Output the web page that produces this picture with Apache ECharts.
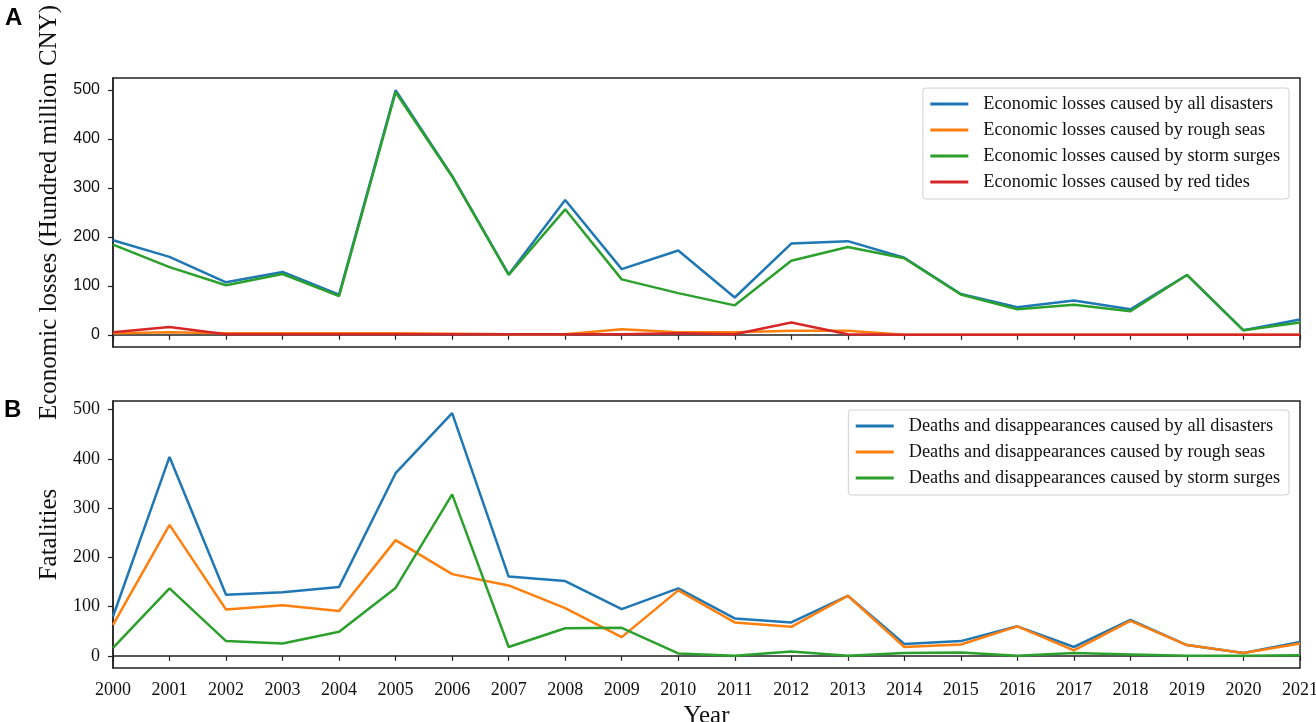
<!DOCTYPE html>
<html>
<head>
<meta charset="utf-8">
<script src="https://cdn.jsdelivr.net/npm/echarts@6/dist/echarts.min.js"></script>
<style>
html,body{margin:0;padding:0;background:#fff;}
#chart{width:1316px;height:722px;}
</style>
</head>
<body>
<div id="chart"></div>
<script>
const years = ['2000','2001','2002','2003','2004','2005','2006','2007','2008','2009','2010','2011','2012','2013','2014','2015','2016','2017','2018','2019','2020','2021'];
const yTicks = [0, 100, 200, 300, 400, 500];

// Panel A: economic losses (hundred million CNY)
const lossAll   = [193,159,107,128,82,499,324,123,275,134,172,76,186,191,157,83,56,70,52,122,9,31];
const lossRough = [3,5,3,3,3,3,2,1,1,11,5,5,8,8,0,0,0,0,0,0,0,0];
const lossStorm = [184,138,101,124,79,495,323,122,256,113,85,60,151,179,156,82,52,61,48,122,9,25];
const lossRed   = [5,16,1,1,1,1,1,1,1,1,3,1,25,1,0,0,0,0,0,0,0,0];

// Panel B: deaths and disappearances
const deathAll   = [80,404,124,129,140,371,493,161,152,95,137,76,68,122,24,30,60,18,73,22,6,28];
const deathRough = [63,266,94,103,91,235,166,143,97,38,133,68,59,122,18,23,60,11,71,22,6,25];
const deathStorm = [16,137,30,25,49,138,328,18,56,57,5,0,9,0,6,7,0,6,3,0,0,1];

const namesA = ['Economic losses caused by all disasters','Economic losses caused by rough seas','Economic losses caused by storm surges','Economic losses caused by red tides'];
const namesB = ['Deaths and disappearances caused by all disasters','Deaths and disappearances caused by rough seas','Deaths and disappearances caused by storm surges'];
const colors = ['#1f77b4','#ff7f0e','#2ca02c','#d62728'];

const serif = '"Liberation Serif","DejaVu Serif",serif';
const sans = '"Liberation Sans",Arial,sans-serif';

function line(name, data, idx, c) {
  return {
    type: 'line', name: name, data: data,
    xAxisIndex: idx, yAxisIndex: idx,
    symbol: 'none', smooth: false,
    lineStyle: {color: colors[c], width: 2.5},
    itemStyle: {color: colors[c]},
    emphasis: {disabled: true},
    animation: false
  };
}

function legend(names, top, right) {
  return {
    data: names, orient: 'vertical', top: top, right: right,
    itemWidth: 38, itemHeight: 14, itemGap: 8,
    padding: [7, 9, 8, 6],
    borderColor: '#d0d0d0', borderWidth: 1, borderRadius: 3,
    backgroundColor: 'rgba(255,255,255,0.85)',
    itemStyle: {opacity: 0},
    lineStyle: {width: 2.8, opacity: 1},
    textStyle: {fontFamily: serif, fontSize: 18.3, color: '#111', padding: [0,0,0,10]},
    selectedMode: false
  };
}

const chart = echarts.init(document.getElementById('chart'));
chart.setOption({
  backgroundColor: '#fff',
  animation: false,
  grid: [
    {left: 113, right: 16, top: 78, height: 269, outerBoundsMode: 'none', containLabel: false, show: true, borderColor: '#222', borderWidth: 1.5, backgroundColor: 'transparent'},
    {left: 113, right: 16, top: 401, height: 267, outerBoundsMode: 'none', containLabel: false, show: true, borderColor: '#222', borderWidth: 1.5, backgroundColor: 'transparent'}
  ],
  xAxis: [
    {type: 'category', gridIndex: 0, data: years, boundaryGap: false,
     axisLine: {lineStyle: {color: '#222', width: 1.5}},
     axisTick: {show: true, length: 5, lineStyle: {color: '#222', width: 1.2}},
     axisLabel: {show: false}, splitLine: {show: false}},
    {type: 'category', gridIndex: 1, data: years, boundaryGap: false,
     axisLine: {lineStyle: {color: '#222', width: 1.5}},
     axisTick: {show: true, length: 5, lineStyle: {color: '#222', width: 1.2}},
     axisLabel: {show: true, interval: 0, fontFamily: serif, fontSize: 18, color: '#111', margin: 13},
     splitLine: {show: false},
     name: 'Year', nameLocation: 'middle', nameGap: 36,
     nameTextStyle: {fontFamily: serif, fontSize: 25, color: '#111'}}
  ],
  yAxis: [
    {type: 'value', gridIndex: 0, min: -25, max: 524,
     axisLine: {show: true, lineStyle: {color: '#222', width: 1.5}},
     axisTick: {show: true, length: 5, customValues: yTicks, lineStyle: {color: '#222', width: 1.2}},
     axisLabel: {show: true, customValues: yTicks, fontFamily: sans, fontSize: 16, color: '#111', margin: 13},
     splitLine: {show: false},
     name: 'Economic losses (Hundred million CNY)', nameLocation: 'middle', nameGap: 45,
     nameTextStyle: {fontFamily: serif, fontSize: 25, color: '#111'}},
    {type: 'value', gridIndex: 1, min: -24.65, max: 517.6,
     axisLine: {show: true, lineStyle: {color: '#222', width: 1.5}},
     axisTick: {show: true, length: 5, customValues: yTicks, lineStyle: {color: '#222', width: 1.2}},
     axisLabel: {show: true, customValues: yTicks, fontFamily: serif, fontSize: 18, color: '#111', margin: 13},
     splitLine: {show: false},
     name: 'Fatalities', nameLocation: 'middle', nameGap: 45,
     nameTextStyle: {fontFamily: serif, fontSize: 25, color: '#111'}}
  ],
  legend: [legend(namesA, 88, 27), legend(namesB, 410, 27)],
  series: [
    line(namesA[0], lossAll, 0, 0),
    line(namesA[1], lossRough, 0, 1),
    line(namesA[2], lossStorm, 0, 2),
    line(namesA[3], lossRed, 0, 3),
    line(namesB[0], deathAll, 1, 0),
    line(namesB[1], deathRough, 1, 1),
    line(namesB[2], deathStorm, 1, 2)
  ],
  graphic: [
    {type: 'text', left: 5, top: 6, style: {text: 'A', font: 'bold 24px "Liberation Sans", Arial, sans-serif', fill: '#000'}},
    {type: 'text', left: 4, top: 398, style: {text: 'B', font: 'bold 24px "Liberation Sans", Arial, sans-serif', fill: '#000'}}
  ]
});
</script>
</body>
</html>
